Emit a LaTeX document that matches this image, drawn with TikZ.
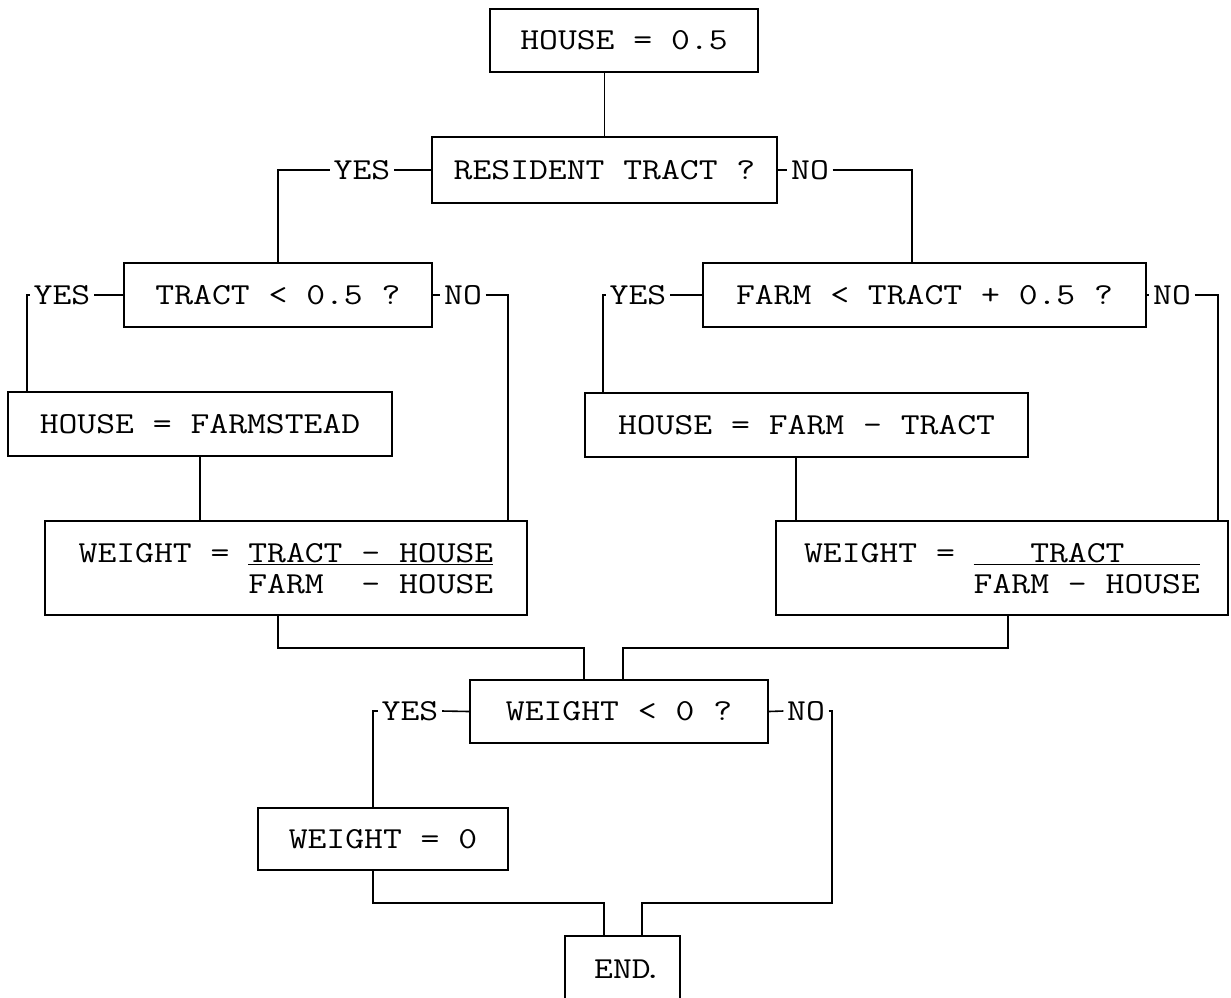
\documentclass[tikz,border=0pt]{standalone}
\usepackage{graphicx}
\usetikzlibrary{calc}
\newcommand{\sx}[1]{\scalebox{1.2}[1]{#1}}
\begin{document}
\begin{tikzpicture}[x=1pt,y=-1pt,line width=1.6pt,
  box/.style={draw,inner sep=0pt,font=\fontsize{30.5}{31}\selectfont\ttfamily},
  lbl/.style={inner sep=3pt,font=\fontsize{30.5}{31}\selectfont\ttfamily}]
\useasboundingbox (0,0) rectangle (1231,997);
% boxes
\node[box,minimum width=268pt,minimum height=63pt] (A) at (624,40.5) {\sx{HOUSE = 0.5}};
\node[box,minimum width=345pt,minimum height=66pt] (B) at (604.5,170) {\sx{RESIDENT TRACT ?}};
\node[box,minimum width=308pt,minimum height=64pt] (C) at (278,295) {\sx{TRACT < 0.5 ?}};
\node[box,minimum width=443pt,minimum height=64pt] (D) at (924.5,295) {\sx{FARM < TRACT + 0.5 ?}};
\node[box,minimum width=384pt,minimum height=64pt] (E) at (200,424) {\sx{HOUSE = FARMSTEAD}};
\node[box,minimum width=443pt,minimum height=64pt] (K) at (806.5,425) {\sx{HOUSE = FARM - TRACT}};
\node[box,minimum width=482pt,minimum height=94pt] (F) at (286,568) {\sx{\raisebox{-3.5pt}[\height][\depth]{\begin{tabular}{@{}l@{}}WEIGHT~=~\underline{TRACT~-~HOUSE}\\~~~~~~~~~FARM~~-~HOUSE\end{tabular}}}};
\node[box,minimum width=452pt,minimum height=94pt] (G) at (1002,568) {\sx{\raisebox{-3.5pt}[\height][\depth]{\begin{tabular}{@{}l@{}}WEIGHT~=~\underline{~~~TRACT~~~~}\\~~~~~~~~~FARM~-~HOUSE\end{tabular}}}};
\node[box,minimum width=298pt,minimum height=63pt] (H) at (619,711.5) {\sx{WEIGHT < 0 ?}};
\node[box,minimum width=250pt,minimum height=62pt] (I) at (383,839) {\sx{WEIGHT = 0}};
\node[box,minimum width=115pt,minimum height=66pt] (END) at (622.5,969) {\sx{END\rlap{\kern-0.2em.}}};
% labels
\node[lbl] (yesB) at (362,170) {\sx{YES}};
\node[lbl] (noB) at (810,170) {\sx{NO}};
\node[lbl] (yesC) at (62,295) {\sx{YES}};
\node[lbl] (noC) at (463,295) {\sx{NO}};
\node[lbl] (yesD) at (638,295) {\sx{YES}};
\node[lbl] (noD) at (1172,295) {\sx{NO}};
\node[lbl] (yesH) at (410,711) {\sx{YES}};
\node[lbl] (noH) at (806,711) {\sx{NO}};
% corner coordinates
\coordinate (nB) at (912,170);
\coordinate (cC) at (27,295);
\coordinate (nC) at (508,295);
\coordinate (cD) at (603,295);
\coordinate (nD) at (1218,295);
\coordinate (kx) at (796,500);
\coordinate (fx) at (278,648);
\coordinate (j1) at (584,648);
\coordinate (gx) at (1008,648);
\coordinate (j2) at (623,648);
\coordinate (cH) at (373,711);
\coordinate (nH) at (832,711);
\coordinate (j3) at (604,903);
\coordinate (j4) at (642,903);
% connectors
\draw (B.north) -- (B.north |- A.south);
\draw (B.west) -- (yesB.east);
\draw (yesB.west) -| (C.north);
\draw (B.east) -- (noB.west);
\draw (noB.east) -- (nB) -- (nB |- D.north);
\draw (C.west) -- (yesC.east);
\draw (yesC.west) -- (cC) -- (cC |- E.north);
\draw (C.east) -- (noC.west);
\draw (noC.east) -- (nC) -- (nC |- F.north);
\draw (E.south) -- (E.south |- F.north);
\draw (D.west) -- (yesD.east);
\draw (yesD.west) -- (cD) -- (cD |- K.north);
\draw (D.east) -- (noD.west);
\draw (noD.east) -- (nD) -- (nD |- G.north);
\draw (kx |- K.south) -- (kx |- G.north);
\draw (fx |- F.south) -- (fx) -- (j1) -- (j1 |- H.north);
\draw (gx |- G.south) -- (gx) -- (j2) -- (j2 |- H.north);
\draw (H.west) -- (yesH.east);
\draw (yesH.west) -- (cH) -- (cH |- I.north);
\draw (H.east) -- (noH.west);
\draw (noH.east) -- (nH) -- (nH |- j4) -- (j4) -- (j4 |- END.north);
\draw (cH |- I.south) -- (cH |- j3) -- (j3) -- (j3 |- END.north);
\end{tikzpicture}
\end{document}
